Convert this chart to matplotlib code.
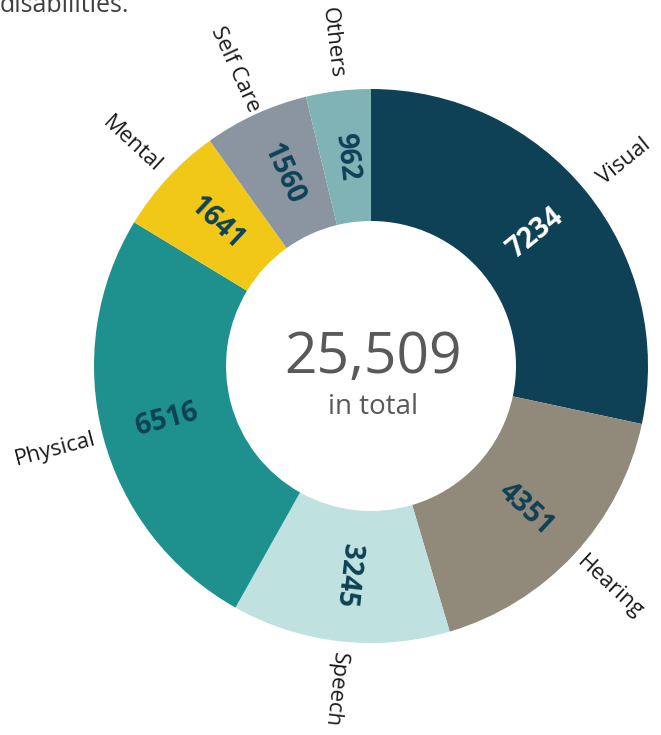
import numpy as np
import matplotlib.pyplot as plt

# data
categories = ['Visual', 'Hearing', 'Speech', 'Physical', 'Mental', 'Self Care', 'Others']
values = [7234, 4351, 3245, 6516, 1641, 1560, 962]
colors = ['#0e4155', '#918a7a', '#bfe1e0', '#1e918e', '#f2c818', '#8b95a1', '#80b3b5']
value_colors = ['white', '#0e4155', '#0e4155', '#0e4155', '#0e4155', '#0e4155', '#0e4155']
total = sum(values)

plt.rcParams['font.family'] = ['Open Sans', 'DejaVu Sans']

W, H = 661, 735
fig = plt.figure(figsize=(W / 100, H / 100), dpi=100)
ax = fig.add_axes([0, 0, 1, 1])

cx, cy = 371, H - 366
r_out, r_in = 277, 145

ax.pie(values, colors=colors, startangle=90, counterclock=False,
       radius=r_out, center=(cx, cy),
       wedgeprops=dict(width=r_out - r_in, linewidth=0))

# pie resets limits, so set them afterwards (pixel coordinates)
ax.set_xlim(0, W)
ax.set_ylim(0, H)
ax.set_aspect('equal')
ax.axis('off')

cum = 0
for cat, v, vc in zip(categories, values, value_colors):
    c = 360 * (cum + v / 2) / total   # clockwise from top
    theta = 90 - c
    rot = theta if c < 200 else theta + 180
    t = np.radians(theta)
    r_mid = (r_out + r_in) / 2
    ax.text(cx + r_mid * np.cos(t), cy + r_mid * np.sin(t), str(v),
            rotation=rot, rotation_mode='anchor', ha='center', va='center',
            fontsize=20, fontweight='bold', color=vc)
    r_lab = 326
    ax.text(cx + r_lab * np.cos(t), cy + r_lab * np.sin(t), cat,
            rotation=rot, rotation_mode='anchor', ha='center', va='center',
            fontsize=16, color='#1a1a1a')
    cum += v

ax.text(cx + 2, H - 358, f'{total:,}', ha='center', va='center',
        fontsize=41, color='#595959')
ax.text(cx + 2, H - 407, 'in total', ha='center', va='center',
        fontsize=20, color='#595959')

# cut-off subtitle tail at the top
ax.text(0, H - 12, 'disabilities.', ha='left', va='baseline',
        fontsize=18, color='#404040')

fig.savefig('out.png', dpi=100)
